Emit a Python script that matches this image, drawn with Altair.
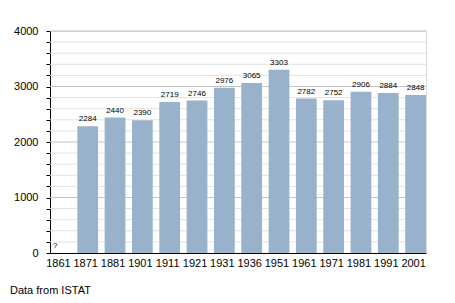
import altair as alt
import pandas as pd

years = ["1861", "1871", "1881", "1901", "1911", "1921", "1931", "1936",
         "1951", "1961", "1971", "1981", "1991", "2001"]
population = [None, 2284, 2440, 2390, 2719, 2746, 2976, 3065,
              3303, 2782, 2752, 2906, 2884, 2848]
grid_values = list(range(200, 4001, 200))
footer = "Data from ISTAT"

df = pd.DataFrame({"year": years, "pop": population})
df["label"] = [("?" if p is None else str(p)) for p in population]
bars_df = df[df["pop"].notna()]
missing_df = df[df["pop"].isna()].assign(pop=0)
grid_df = pd.DataFrame({"v": grid_values, "major": [v % 1000 == 0 for v in grid_values]})

FONT = "Liberation Sans"

xscale = alt.Scale(domain=years, paddingInner=0.24, paddingOuter=0, align=0)
yscale = alt.Scale(domain=[0, 4000], nice=False)
yaxis = alt.Axis(values=[0] + grid_values, labelExpr="datum.value % 1000 == 0 ? datum.label : ''",
                 format="d", tickSize=4, tickColor="black", domainColor="black",
                 labelFont=FONT, labelFontSize=11, labelColor="black", labelPadding=8,
                 grid=False, title=None)
xaxis = alt.Axis(ticks=False, domainColor="black", labelAngle=0, labelFont=FONT,
                 labelFontSize=11, labelColor="black", labelPadding=4, labelOffset=-2, title=None)

grid = alt.Chart(grid_df).mark_rule(strokeWidth=1).encode(
    y=alt.Y("v:Q", scale=yscale, axis=yaxis),
    color=alt.Color("major:N", scale=alt.Scale(domain=[True, False], range=["#c4c4c4", "#e2e2e2"]), legend=None),
)

bars = alt.Chart(bars_df).mark_bar(color="#99b2cb").encode(
    x=alt.X("year:N", sort=years, scale=xscale, axis=xaxis),
    y=alt.Y("pop:Q", scale=yscale, axis=yaxis),
)

labels = alt.Chart(bars_df).mark_text(font=FONT, fontSize=8, dy=-7, color="black").encode(
    x=alt.X("year:N", sort=years, scale=xscale, axis=xaxis),
    y=alt.Y("pop:Q", scale=yscale, axis=yaxis),
    text="label:N",
)

missing = alt.Chart(missing_df).mark_text(font=FONT, fontSize=8, dy=-7, dx=3, align="left", color="black").encode(
    x=alt.X("year:N", sort=years, scale=xscale, bandPosition=0, axis=xaxis),
    y=alt.Y("pop:Q", scale=yscale, axis=yaxis),
    text="label:N",
)

note = alt.Chart(pd.DataFrame({"t": [footer]})).mark_text(
    font=FONT, fontSize=11, align="left", baseline="middle", color="black"
).encode(x=alt.value(-40), y=alt.value(260), text="t:N")

chart = alt.layer(grid, bars, labels, missing, note).properties(
    width=376, height=222,
    autosize=alt.AutoSizeParams(type="none"),
    padding={"left": 42, "top": 23, "right": 21, "bottom": 42},
).configure_view(stroke=None).configure(background="white")

chart.save("out.html", embed_options={"renderer": "svg", "actions": False})
